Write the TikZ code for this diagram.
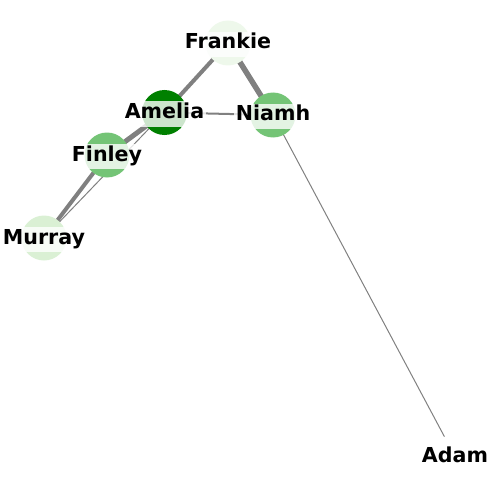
\documentclass[tikz,border=0pt]{standalone}
\usepackage{fontspec}
\setmainfont{DejaVu Sans}
\pgfdeclarelayer{background}
\pgfsetlayers{background,main}
\definecolor{edgegray}{RGB}{128,128,128}
\definecolor{cFrankie}{RGB}{238,248,235}
\definecolor{cMurray}{RGB}{218,240,212}
\definecolor{cMid}{RGB}{116,196,118}
\definecolor{cAmelia}{RGB}{0,128,0}
\begin{document}
\begin{tikzpicture}[x=1pt,y=-1pt,
  vert/.style={circle,minimum size=45pt,inner sep=0pt,draw=none},
  lab/.style={fill=white,fill opacity=0.8,text opacity=1,inner xsep=2pt,inner ysep=3.25pt,
    text height=14pt,text depth=5pt,yshift=-1.5pt,font=\fontsize{20.6}{21}\selectfont\bfseries},
  edge/.style={draw=edgegray,line cap=butt}]
\useasboundingbox (0,0) rectangle (500,500);
% vertices
\node[vert,fill=cFrankie] (frankie) at (228,43) {};
\node[vert,fill=cAmelia] (amelia) at (164.5,112.5) {};
\node[vert,fill=cMid] (niamh) at (273,115) {};
\node[vert,fill=cMid] (finley) at (107,155) {};
\node[vert,fill=cMurray] (murray) at (44,238) {};
\node[vert,fill=white] (adam) at (455,456.5) {};
% labels
\node[lab] at (frankie.center) {Frankie};
\node[lab] at (amelia.center) {Amelia};
\node[lab] at (niamh.center) {Niamh};
\node[lab] at (finley.center) {Finley};
\node[lab] at (murray.center) {Murray};
\node[lab] at (adam.center) {Adam};
% edges
\begin{pgfonlayer}{background}
\draw[edge,line width=5.5pt] (frankie.center) -- (niamh.center);
\draw[edge,line width=4pt] (frankie.center) -- (amelia.center);
\draw[edge,line width=2pt] (amelia.center) -- (niamh.center);
\draw[edge,line width=5pt] (finley.center) -- (amelia.center);
\draw[edge,line width=4pt] (murray.center) -- (finley.center);
\draw[edge,line width=1pt] (murray.center) -- (amelia.center);
\draw[edge,line width=1pt] (niamh.center) -- (adam.center);
\end{pgfonlayer}
\end{tikzpicture}
\end{document}
